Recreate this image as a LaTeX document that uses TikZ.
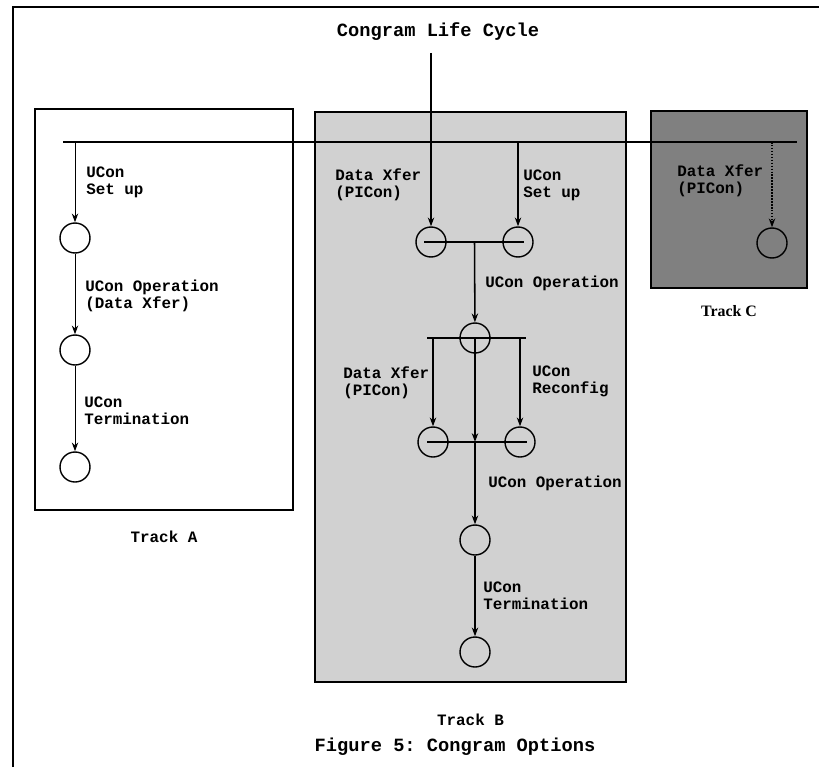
\documentclass[tikz,border=0pt]{standalone}
\usepackage{fontspec}
\setmonofont{Liberation Mono}
\newfontfamily\trackfont{Liberation Serif}
\usetikzlibrary{arrows.meta,positioning,calc}

\begin{document}
\begin{tikzpicture}[
		x=0.025cm, y=-0.025cm,
		trackbox/.style={draw, line width=1.1pt, inner sep=0pt},
		state/.style={draw, circle, line width=1pt, minimum size=0.75cm, inner sep=0pt},
		flow/.style={-{Stealth[length=2.2mm,width=1.6mm]}, line width=1.1pt},
		thinflow/.style={flow, line width=0.7pt},
		bar/.style={line width=1.1pt},
		lab/.style={anchor=west, align=left, inner sep=0pt, font=\ttfamily\bfseries\fontsize{11.3}{12.2}\selectfont},
		big/.style={font=\ttfamily\bfseries\fontsize{13.3}{15}\selectfont}
		]
		\useasboundingbox (0,0) rectangle (819,767);
		\draw[line width=1.4pt] (13,767) -- (13,7) -- (819,7);
		
		% tracks
		\node[trackbox, minimum width=6.45cm, minimum height=10.025cm] (trackA) at (164,309.5) {};
		\node[trackbox, fill=black!18, minimum width=7.775cm, minimum height=14.25cm] (trackB) at (470.5,397) {};
		\node[trackbox, fill=black!50, minimum width=3.9cm, minimum height=4.425cm] (trackC) at (729,199.5) {};
		
		\node[big] (title) at (438,32) {Congram Life Cycle};
		\node[big] (caption) at (455,747) {Figure 5: Congram Options};
		\node[lab, below=0.5cm of trackA] (labA) {Track A};
		\node[lab, below=0.76cm of trackB] (labB) {Track B};
		\node[font=\trackfont\bfseries\fontsize{11.3}{13}\selectfont, inner sep=0pt, below=0.42cm of trackC] (labC) {Track C};
		
		% states
		\node[state] (A1) at (75,238) {};
		\node[state] (A2) at (75,350) {};
		\node[state] (A3) at (75,467) {};
		\node[state] (B1) at (431,242) {};
		\node[state] (B2) at (518,242) {};
		\node[state] (B3) at (475,338) {};
		\node[state] (B4) at (433,442) {};
		\node[state] (B5) at (520,442) {};
		\node[state] (B6) at (475,540) {};
		\node[state] (B7) at (475,652) {};
		\node[state] (C1) at (772,243) {};
		
		% bus
		\coordinate (busL) at (63,142);
		\coordinate (busR) at (797,142);
		\coordinate (entry) at (431,53);
		\coordinate (busA) at (A1 |- busL);
		\coordinate (busB) at (B2 |- busL);
		\coordinate (busC) at (C1 |- busL);
		\draw[bar] (busL) -- (busR);
		
		% track A
		\draw[thinflow] (busA) -- (A1);
		\draw[thinflow] (A1) -- (A2);
		\draw[thinflow] (A2) -- (A3);
		
		% track B
		\draw[flow] (entry) -- (B1);
		\draw[flow] (busB) -- (B2);
		\draw[bar] ($(B1)+(-7,0)$) -- ($(B2)+(6,0)$);
		\coordinate (split1) at ($(B1)!0.5!(B2)$);
		\draw[flow] (split1) -- (B3);
		\coordinate (bar3L) at (427,338);
		\coordinate (bar3R) at (526,338);
		\draw[bar] (bar3L) -- (bar3R);
		\coordinate (drop4) at (B4 |- B3);
		\coordinate (drop5) at (B5 |- B3);
		\draw[flow] (drop4) -- (B4);
		\draw[flow] (drop5) -- (B5);
		\draw[bar] ($(B4)+(-6,0)$) -- ($(B5)+(7,0)$);
		\coordinate (join) at (B3 |- B4);
		\draw[flow] (B3.center) -- (join);
		\draw[flow] (join) -- (B6);
		\draw[flow] (B6) -- (B7);
		
		% track C
		\draw[flow, densely dotted] (busC) -- (C1);
		
		% labels
		\node[lab] (lA1) at (86,182) {UCon\\Set up};
		\node[lab] (lA2) at (85,296) {UCon Operation\\(Data Xfer)};
		\node[lab] (lA3) at (84,411) {UCon\\Termination};
		\node[lab] (lB1) at (335,185) {Data Xfer\\(PICon)};
		\node[lab] (lB2) at (523,185) {UCon\\Set up};
		\node[lab] (lB3) at (485,283) {UCon Operation};
		\node[lab] (lB4) at (343,383) {Data Xfer\\(PICon)};
		\node[lab] (lB5) at (532,381) {UCon\\Reconfig};
		\node[lab] (lB6) at (488,483) {UCon Operation};
		\node[lab] (lB7) at (483,596) {UCon\\Termination};
		\node[lab] (lC1) at (677,181) {Data Xfer\\(PICon)};
	\end{tikzpicture}
\end{document}
